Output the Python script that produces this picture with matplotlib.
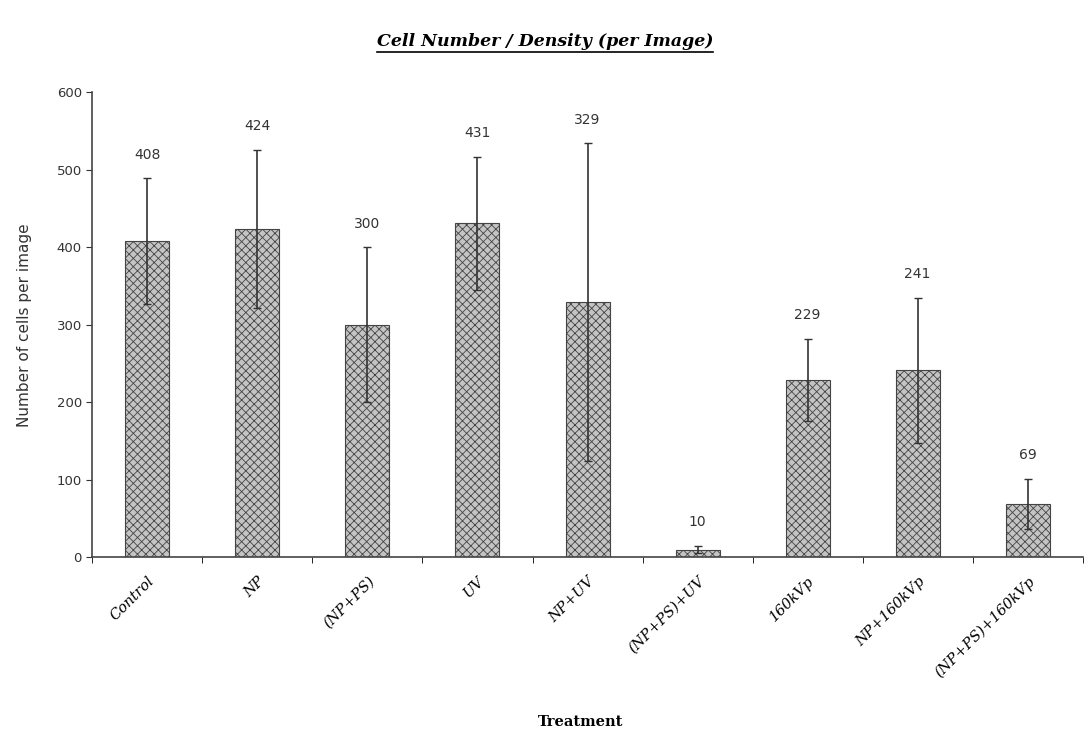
import numpy as np
import matplotlib.pyplot as plt

treatments = ["Control", "NP", "(NP+PS)", "UV", "NP+UV", "(NP+PS)+UV",
              "160kVp", "NP+160kVp", "(NP+PS)+160kVp"]
cells = [408, 424, 300, 431, 329, 10, 229, 241, 69]
errors = [81, 102, 100, 86, 205, 5, 53, 94, 32]

plt.rcParams['hatch.color'] = '#7a7a7a'
plt.rcParams['hatch.linewidth'] = 0.6

fig = plt.figure(figsize=(10.86, 7.5), dpi=100)
ax = fig.add_axes([0.085, 0.257, 0.912, 0.62])

x = np.arange(len(treatments))
ax.bar(x, cells, width=0.4, color='#c4c4c4', edgecolor='#444444',
       linewidth=0.8, hatch='xxxx')
ax.errorbar(x, cells, yerr=errors, fmt='none', ecolor='#333333',
            elinewidth=1.2, capsize=3, capthick=1)

for xi, v, e in zip(x, cells, errors):
    ax.annotate(str(v), (xi, v + e), xytext=(0, 12), textcoords='offset points',
                ha='center', va='bottom', fontsize=10, color='#333333')

ax.set_xlim(-0.5, len(treatments) - 0.5)
ax.set_ylim(0, 600)
ax.set_yticks(range(0, 601, 100))
ax.tick_params(axis='y', direction='out', length=4, labelsize=9.5,
               colors='#333333')

ax.set_xticks(x)
ax.set_xticklabels(treatments, rotation=45, ha='right', rotation_mode='anchor',
                   fontsize=10.5, family='serif', style='italic')
ax.tick_params(axis='x', which='major', length=0, pad=12)
ax.set_xticks(np.arange(-0.5, len(treatments)), minor=True)
ax.tick_params(axis='x', which='minor', length=4, direction='out')

for s in ['top', 'right']:
    ax.spines[s].set_visible(False)
for s in ['left', 'bottom']:
    ax.spines[s].set_color('#444444')
    ax.spines[s].set_linewidth(1.2)

ax.set_ylabel('Number of cells per image', fontsize=11, color='#333333',
              labelpad=18)
fig.text(0.535, 0.037, 'Treatment', ha='center', va='center', fontsize=10.5,
         family='serif', fontweight='bold')

title = fig.text(0.502, 0.944, 'Cell Number / Density (per Image)', ha='center',
                 va='center', fontsize=12.5, family='serif', style='italic',
                 fontweight='bold')
fig.canvas.draw()
bb = title.get_window_extent().transformed(fig.transFigure.inverted())
fig.add_artist(plt.Line2D([bb.x0, bb.x1], [bb.y0 - 0.002, bb.y0 - 0.002],
                          color='black', linewidth=1.2,
                          transform=fig.transFigure))

fig.savefig('out.png', dpi=100)
